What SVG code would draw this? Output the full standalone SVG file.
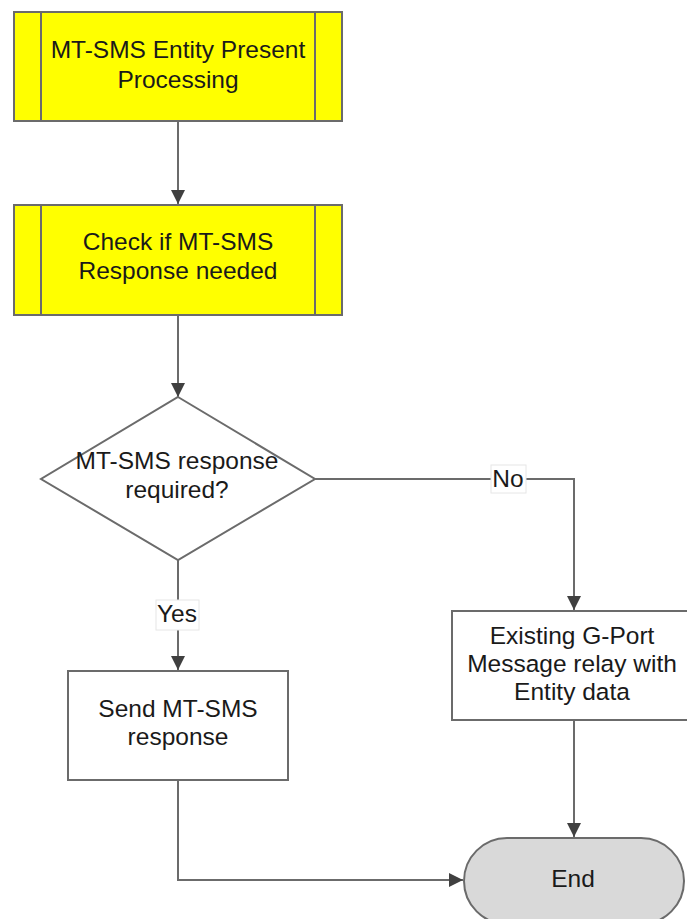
<svg xmlns="http://www.w3.org/2000/svg" width="687" height="919" viewBox="0 0 687 919">
<style>
.box{fill:#ffffff;stroke:#6b6b6b;stroke-width:2}
.proc{fill:#ffff00;stroke:#6b6b6b;stroke-width:2}
.inner{stroke:#6b6b6b;stroke-width:2;fill:none}
.term{fill:#d9d9d9;stroke:#6b6b6b;stroke-width:2}
.t{font-family:"Liberation Sans",Arial,sans-serif;font-size:24.5px;fill:#1a1a1a;text-anchor:middle}
.conn{fill:none;stroke:#6b6b6b;stroke-width:2}
.lbl{fill:#ffffff;stroke:#e6e6e6;stroke-width:1}
</style>
<defs>
<marker id="arr" markerWidth="14" markerHeight="14" refX="14" refY="7" orient="auto" markerUnits="userSpaceOnUse">
<path d="M0,0 L14,7 L0,14 Z" fill="#404040"/>
</marker>
</defs>
<g id="connectors">
<path class="conn" d="M178,121 L178,204" marker-end="url(#arr)"/>
<path class="conn" d="M178,315 L178,397" marker-end="url(#arr)"/>
<path class="conn" d="M315,479 L574,479 L574,610" marker-end="url(#arr)"/>
<path class="conn" d="M178,560 L178,670" marker-end="url(#arr)"/>
<path class="conn" d="M574,720 L574,837" marker-end="url(#arr)"/>
<path class="conn" d="M178,780 L178,880 L463,880" marker-end="url(#arr)"/>
<g id="label-no">
<rect class="lbl" x="491" y="465" width="35" height="28"/>
<text class="t" x="508" y="487">No</text>
</g>
<g id="label-yes">
<rect class="lbl" x="156" y="600" width="43" height="30"/>
<text class="t" x="177" y="622">Yes</text>
</g>
</g>
<g id="n1">
<rect class="proc" x="14" y="12" width="328" height="109"/>
<path class="inner" d="M41,12 V121 M315,12 V121"/>
<text class="t" x="178" y="58">MT-SMS Entity Present</text>
<text class="t" x="178" y="88">Processing</text>
</g>
<g id="n2">
<rect class="proc" x="14" y="205" width="328" height="110"/>
<path class="inner" d="M41,205 V315 M315,205 V315"/>
<text class="t" x="178" y="250">Check if MT-SMS</text>
<text class="t" x="178" y="279">Response needed</text>
</g>
<g id="n3">
<polygon class="box" points="178,397 315,479 178,560 41,479"/>
<text class="t" x="177" y="469">MT-SMS response</text>
<text class="t" x="177" y="498">required?</text>
</g>
<g id="n4">
<rect class="box" x="68" y="671" width="220" height="109"/>
<text class="t" x="178" y="717">Send MT-SMS</text>
<text class="t" x="178" y="745">response</text>
</g>
<g id="n5">
<rect class="box" x="452" y="611" width="240" height="109"/>
<text class="t" x="572" y="644">Existing G-Port</text>
<text class="t" x="572" y="672">Message relay with</text>
<text class="t" x="572" y="700">Entity data</text>
</g>
<g id="n6">
<rect class="term" x="464" y="838" width="220" height="86" rx="43" ry="43"/>
<text class="t" x="573" y="887">End</text>
</g>
</svg>
